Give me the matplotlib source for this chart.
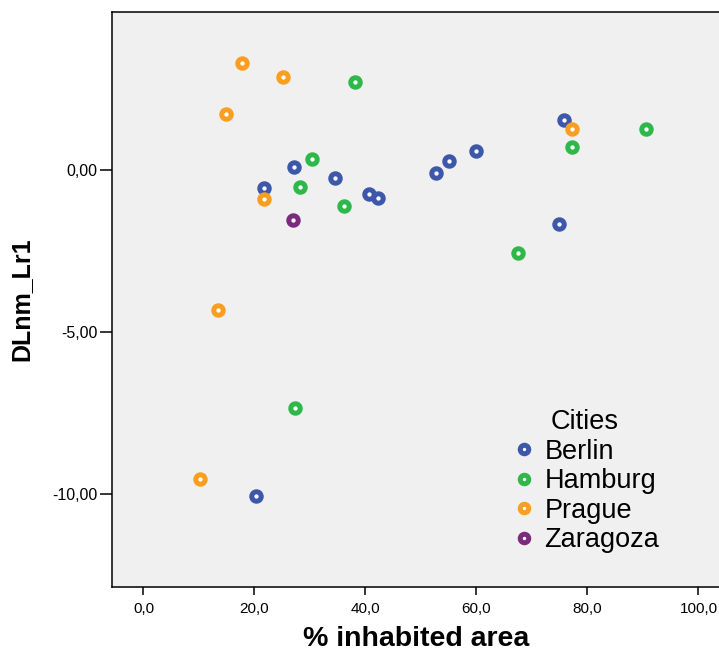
import numpy as np
import matplotlib
matplotlib.use("Agg")
import matplotlib.pyplot as plt
from matplotlib.ticker import FuncFormatter

plt.rcParams['font.family'] = ['Liberation Sans', 'DejaVu Sans']

cities = ["Berlin", "Hamburg", "Prague", "Zaragoza"]
colors = ["#3d58ab", "#2eb84a", "#fa9e22", "#7c2a7e"]

berlin_x = [21.8, 27.2, 34.5, 40.6, 42.2, 52.7, 55.0, 60.0, 75.8, 74.9, 20.3]
berlin_y = [-0.56, 0.08, -0.23, -0.75, -0.86, -0.09, 0.29, 0.58, 1.54, -1.67, -10.06]

hamburg_x = [38.1, 30.4, 28.2, 36.2, 77.3, 90.6, 67.5, 27.3]
hamburg_y = [2.72, 0.33, -0.52, -1.11, 0.71, 1.27, -2.55, -7.35]

prague_x = [17.7, 25.1, 14.9, 77.2, 21.8, 13.4, 10.2]
prague_y = [3.30, 2.87, 1.73, 1.27, -0.89, -4.32, -9.54]

zaragoza_x = [26.9]
zaragoza_y = [-1.54]

xs = [berlin_x, hamburg_x, prague_x, zaragoza_x]
ys = [berlin_y, hamburg_y, prague_y, zaragoza_y]

xticks = [0, 20, 40, 60, 80, 100]
yticks = [0, -5, -10]

fig = plt.figure(figsize=(7.19, 6.52), dpi=100)
ax = fig.add_axes([0.1563, 0.0997, 0.8437, 0.8819])
ax.set_facecolor("#f0f0f0")

for name, c, x, y in zip(cities, colors, xs, ys):
    ax.plot(x, y, linestyle="none", marker="o", markersize=6.8,
            markerfacecolor="white", markeredgecolor=c, markeredgewidth=3.6,
            label=name)

ax.set_xlim(-5.6, 103.7)
ax.set_ylim(-12.87, 4.88)

ax.set_xticks(xticks)
ax.set_yticks(yticks)
ax.xaxis.set_major_formatter(FuncFormatter(lambda v, p: ("%.1f" % v).replace(".", ",")))
ax.yaxis.set_major_formatter(FuncFormatter(lambda v, p: ("%.2f" % v).replace(".", ",")))
ax.tick_params(axis="x", length=6, width=1.1, pad=5, labelsize=11)
ax.tick_params(axis="y", length=8.5, width=1.1, pad=2, labelsize=11.5)

for s in ["left", "bottom", "top"]:
    ax.spines[s].set_linewidth(1.1)
ax.spines["right"].set_visible(False)

ax.set_xlabel("% inhabited area", fontsize=20.5, fontweight="bold", labelpad=7)
ax.set_ylabel("DLnm_Lr1", fontsize=18, fontweight="bold", labelpad=14)

leg = ax.legend(title="Cities", loc="upper left", bbox_to_anchor=(0.634, 0.333),
                frameon=False, fontsize=19.5, title_fontsize=19.5,
                handletextpad=0.25, labelspacing=0.13, borderpad=0,
                handlelength=1.0, markerscale=0.9)

fig.savefig("out.png", dpi=100)
